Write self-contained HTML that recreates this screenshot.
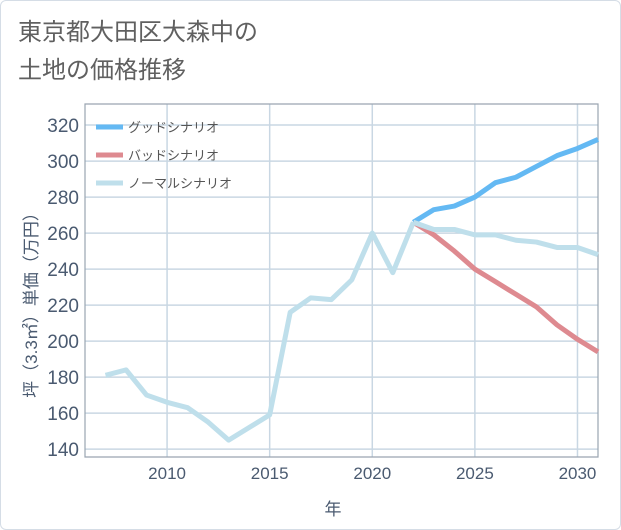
<!DOCTYPE html>
<html><head><meta charset="utf-8"><style>
body{margin:0;background:#fff;}
#wrap{position:relative;width:621px;height:530px;background:#fff;box-sizing:border-box;border:1px solid #d5dde6;border-radius:6px;overflow:hidden;font-family:"Liberation Sans","Noto Sans CJK JP",sans-serif;}
#title{position:absolute;left:17px;top:13px;font-size:24px;line-height:38px;color:#606060;}
svg{position:absolute;left:0;top:0;}
</style></head><body>
<div id="wrap">
<div id="title">東京都大田区大森中の<br>土地の価格推移</div>
<svg id="chart" width="621" height="530"></svg>
</div>
<script>
const histYears=[2007,2008,2009,2010,2011,2012,2013,2014,2015,2016,2017,2018,2019,2020,2021,2022];
const histValues=[181,184,170,166,163,155,145,152,159,216,224,223,234,260,238,266];
const futYears=[2022,2023,2024,2025,2026,2027,2028,2029,2030,2031];
const goodValues=[266,273,275,280,288,291,297,303,307,312];
const badValues=[266,259,250,240,233,226,219,209,201,194];
const normalValues=[266,262,262,259,259,256,255,252,252,248];
const yTicks=[140,160,180,200,220,240,260,280,300,320];
const xTicks=[2010,2015,2020,2025,2030];
const legendLabels=["グッドシナリオ","バッドシナリオ","ノーマルシナリオ"];

const L=84,R=597,T=103,B=456,x0=2006,x1=2031,y0=135.6,y1=331.7;
const xs=v=>L+(v-x0)/(x1-x0)*(R-L);
const ys=v=>B-(v-y0)/(y1-y0)*(B-T);
const svg=document.getElementById('chart');
const NS='http://www.w3.org/2000/svg';
function mk(tag,attrs,parent){const e=document.createElementNS(NS,tag);for(const k in attrs)e.setAttribute(k,attrs[k]);(parent||svg).appendChild(e);return e;}

yTicks.forEach(v=>{
  const l=mk('line',{x1:L,x2:R,y1:ys(v),y2:ys(v),stroke:'#c9d7e3','stroke-width':1.5});
  
  
  const t=mk('text',{x:78,y:ys(v)+7,'text-anchor':'end','font-size':19,fill:'#4a5a70'});
  t.textContent=v;
  
  
});
xTicks.forEach(v=>{
  const l=mk('line',{x1:xs(v),x2:xs(v),y1:T,y2:B,stroke:'#c9d7e3','stroke-width':1.5});
  
  
  const t=mk('text',{x:xs(v),y:478,'text-anchor':'middle','font-size':17,fill:'#4a5a70'});
  t.textContent=v;
  
  
});
const fr=mk('path',{d:`M${L},${B} L${L},${T} L${R},${T} L${R},${B} Z`,fill:'none',stroke:'#9aa5b1','stroke-width':1.2});



function line(xsArr,vals,color,name){
  const p=mk('polyline',{points:xsArr.map((y,i)=>xs(y)+','+ys(vals[i])).join(' '),fill:'none',stroke:color,'stroke-width':5,'stroke-linejoin':'round'});
  
  
}
line(futYears,goodValues,'#64b9f3','good-scenario-line');
line(futYears,badValues,'#de8a90','bad-scenario-line');
line(futYears,normalValues,'#bfdfeb','normal-scenario-line');
line(histYears,histValues,'#bfdfeb','historical-line');

const lc=['#64b9f3','#de8a90','#bfdfeb'];
legendLabels.forEach((s,i)=>{
  const y=126+i*28;
  const g=mk('g',{});
  
  
  mk('line',{x1:95,x2:122,y1:y,y2:y,stroke:lc[i],'stroke-width':5},g);
  const t=mk('text',{x:127,y:y+5,'font-size':13,fill:'#555'},g);
  t.textContent=s;
});
const yt=mk('text',{x:0,y:0,'font-size':17,fill:'#4a5a70','text-anchor':'middle',transform:'translate(36,300) rotate(-90)'});
yt.textContent='坪（3.3㎡）単価（万円）';


const xt=mk('text',{x:332,y:514,'font-size':17,fill:'#4a5a70','text-anchor':'middle'});
xt.textContent='年';


</script>
</body></html>
